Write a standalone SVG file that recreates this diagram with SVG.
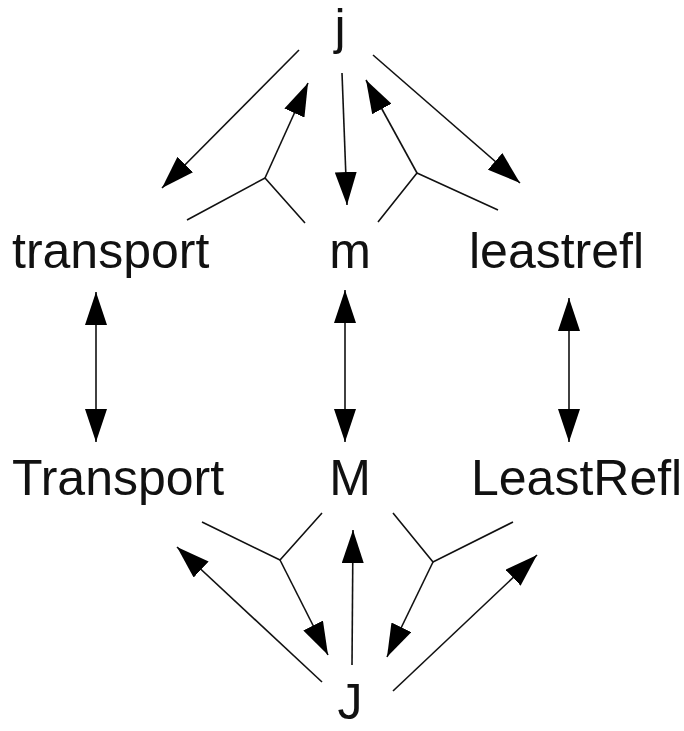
<svg xmlns="http://www.w3.org/2000/svg" width="684" height="731" viewBox="0 0 684 731">
  <style>
    .label { font-family: "Liberation Sans", Arial, sans-serif; font-size: 50px; fill: #111; }
    .edge { fill: none; stroke: #111; stroke-width: 1.6; }
  </style>
  <defs>
    <marker id="head" viewBox="0 0 33 22" refX="33" refY="11" markerWidth="33" markerHeight="22" markerUnits="userSpaceOnUse" orient="auto-start-reverse">
      <path d="M0,0 L33,11 L0,22 z" fill="#000"/>
    </marker>
  </defs>
  <rect width="684" height="731" fill="#fff"/>

  <g id="connectors">
    <!-- j to its three children -->
    <line class="edge" x1="299" y1="50" x2="162" y2="188" marker-end="url(#head)"/>
    <line class="edge" x1="342" y1="73" x2="347" y2="205" marker-end="url(#head)"/>
    <line class="edge" x1="373" y1="55" x2="520" y2="183" marker-end="url(#head)"/>
    <!-- joined edges back up to j -->
    <polyline class="edge" points="187,220 265,178 305,223"/>
    <line class="edge" x1="265" y1="178" x2="308" y2="83" marker-end="url(#head)"/>
    <polyline class="edge" points="498,210 417,173 378,222"/>
    <line class="edge" x1="417" y1="173" x2="366" y2="80" marker-end="url(#head)"/>
    <!-- vertical two-way links -->
    <line class="edge" x1="96" y1="292" x2="96" y2="442" marker-start="url(#head)" marker-end="url(#head)"/>
    <line class="edge" x1="345" y1="290" x2="345" y2="442" marker-start="url(#head)" marker-end="url(#head)"/>
    <line class="edge" x1="569" y1="298" x2="569" y2="442" marker-start="url(#head)" marker-end="url(#head)"/>
    <!-- joined edges down to J -->
    <polyline class="edge" points="202,522 280,560 322,513"/>
    <line class="edge" x1="280" y1="560" x2="328" y2="655" marker-end="url(#head)"/>
    <polyline class="edge" points="393,513 433,562 513,522"/>
    <line class="edge" x1="433" y1="562" x2="387" y2="657" marker-end="url(#head)"/>
    <!-- J to its three parents -->
    <line class="edge" x1="322" y1="682" x2="177" y2="547" marker-end="url(#head)"/>
    <line class="edge" x1="352" y1="665" x2="353" y2="530" marker-end="url(#head)"/>
    <line class="edge" x1="393" y1="691" x2="537" y2="555" marker-end="url(#head)"/>
  </g>

  <g id="node-j"><text class="label" x="340" y="44" text-anchor="middle">j</text></g>
  <g id="node-transport"><text class="label" x="12" y="268">transport</text></g>
  <g id="node-m"><text class="label" x="350" y="268" text-anchor="middle">m</text></g>
  <g id="node-leastrefl"><text class="label" x="469" y="268">leastrefl</text></g>
  <g id="node-Transport"><text class="label" x="12" y="495">Transport</text></g>
  <g id="node-M"><text class="label" x="350" y="495" text-anchor="middle">M</text></g>
  <g id="node-LeastRefl"><text class="label" x="471" y="495">LeastRefl</text></g>
  <g id="node-J"><text class="label" x="350" y="719" text-anchor="middle">J</text></g>
</svg>
